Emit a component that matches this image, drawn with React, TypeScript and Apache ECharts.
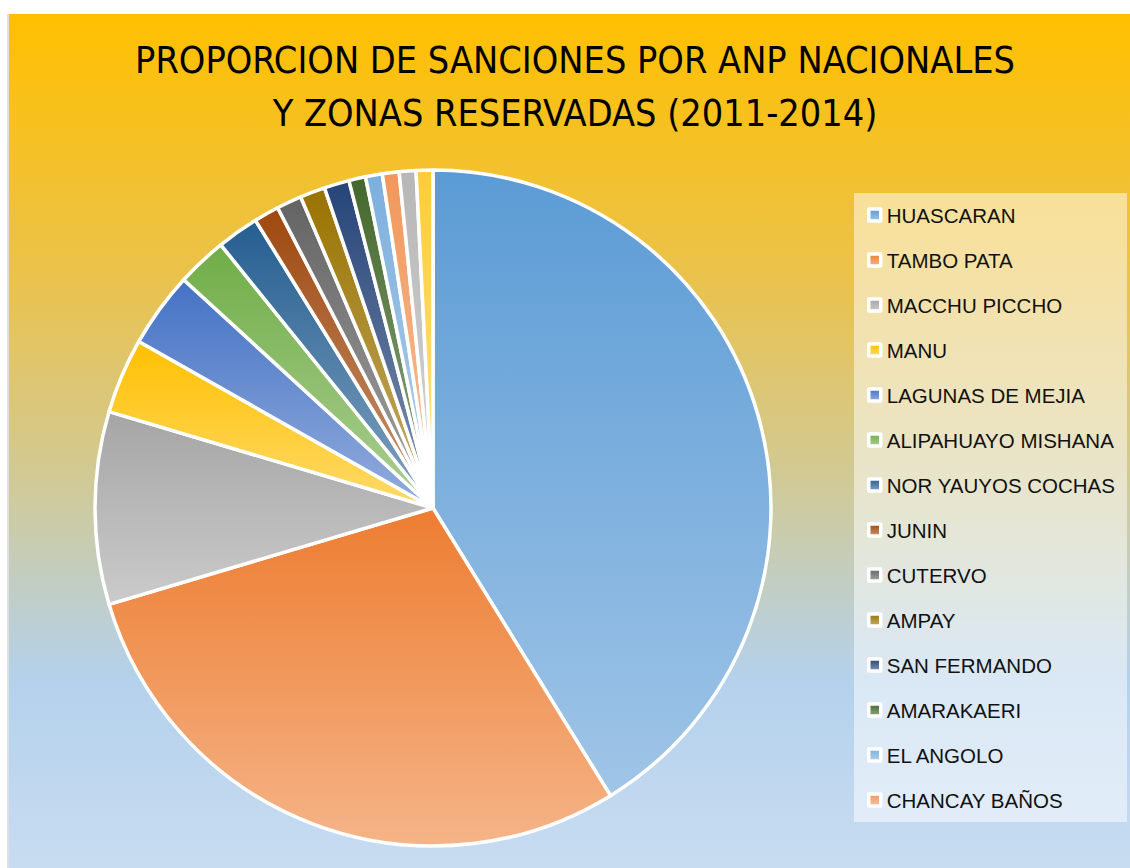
import React, { useEffect, useRef } from "react";
import * as echarts from "echarts";

const titleLines = [
  "PROPORCION DE SANCIONES POR ANP NACIONALES",
  "Y ZONAS RESERVADAS (2011-2014)",
];

const categories = [
  "HUASCARAN",
  "TAMBO PATA",
  "MACCHU PICCHO",
  "MANU",
  "LAGUNAS DE MEJIA",
  "ALIPAHUAYO MISHANA",
  "NOR YAUYOS COCHAS",
  "JUNIN",
  "CUTERVO",
  "AMPAY",
  "SAN FERMANDO",
  "AMARAKAERI",
  "EL ANGOLO",
  "CHANCAY BAÑOS",
  "OTRA ANP A",
  "OTRA ANP B",
];

const values = [103, 73, 23, 9, 9, 6, 5, 3, 3, 3, 3, 2, 2, 2, 2, 2];

const baseColors = [
  "#5B9BD5",
  "#ED7D31",
  "#A5A5A5",
  "#FFC000",
  "#4472C4",
  "#70AD47",
  "#255E91",
  "#9E480E",
  "#636363",
  "#997300",
  "#264478",
  "#43682B",
  "#7CAFDD",
  "#F1975A",
  "#B7B7B7",
  "#FFCD33",
];

const legendNames = categories.slice(0, 14);

function mix(hex: string, t: number): string {
  const n = parseInt(hex.slice(1), 16);
  const r = (n >> 16) & 255;
  const g = (n >> 8) & 255;
  const b = n & 255;
  const f = (c: number) => Math.round(c + (255 - c) * t);
  return `rgb(${f(r)},${f(g)},${f(b)})`;
}

function sliceGradient(hex: string) {
  return new echarts.graphic.LinearGradient(0, 0, 0, 1, [
    { offset: 0, color: hex },
    { offset: 1, color: mix(hex, 0.42) },
  ]);
}

export default function App() {
  const ref = useRef<HTMLDivElement>(null);

  useEffect(() => {
    if (!ref.current) return;
    const chart = echarts.init(ref.current, null, { renderer: "svg" });

    const data = categories.map((name, i) => ({
      name,
      value: values[i],
      itemStyle: { color: sliceGradient(baseColors[i]) },
    }));

    const titleFont = "'Liberation Sans Narrow', 'DejaVu Sans Condensed', 'Liberation Sans', sans-serif";

    chart.setOption({
      animation: false,
      graphic: [
        {
          type: "rect",
          z: -10,
          shape: { x: 9, y: 14, width: 1121, height: 854 },
          style: {
            fill: new echarts.graphic.LinearGradient(0, 0, 0, 1, [
              { offset: 0, color: "#FFC000" },
              { offset: 0.3, color: "#EBC24A" },
              { offset: 0.55, color: "#D0CA98" },
              { offset: 0.78, color: "#B4D1EC" },
              { offset: 1, color: "#C8DCF1" },
            ]),
          },
        },
        {
          type: "line",
          z: -9,
          shape: { x1: 8, y1: 14, x2: 8, y2: 868 },
          style: { stroke: "#D4D4D4", lineWidth: 1.5 },
        },
        {
          type: "rect",
          z: -8,
          shape: { x: 854, y: 193, width: 273, height: 629 },
          style: { fill: "rgba(255,255,255,0.5)" },
        },
        {
          type: "text",
          z: -7,
          x: 575,
          y: 60,
          style: {
            text: titleLines[0],
            font: `37.5px ${titleFont}`,
            fill: "#000000",
            align: "center",
            verticalAlign: "middle",
          },
        },
        {
          type: "text",
          z: -7,
          x: 575,
          y: 113,
          style: {
            text: titleLines[1],
            font: `37.5px ${titleFont}`,
            fill: "#000000",
            align: "center",
            verticalAlign: "middle",
          },
        },
      ],
      legend: {
        orient: "vertical",
        left: 862,
        top: 198,
        data: legendNames,
        icon: "rect",
        itemWidth: 12,
        itemHeight: 12,
        itemGap: 21,
        selectedMode: false,
        itemStyle: { borderColor: "#FFFFFF", borderWidth: 3.5 },
        textStyle: {
          fontFamily: "'Liberation Sans', Arial, sans-serif",
          fontSize: 20.5,
          lineHeight: 24,
          color: "#111111",
          padding: [0, 0, 0, 1],
        },
      },
      series: [
        {
          type: "pie",
          center: [433, 508],
          radius: 338,
          startAngle: 90,
          clockwise: true,
          label: { show: false },
          labelLine: { show: false },
          emphasis: { disabled: true },
          itemStyle: { borderColor: "#FFFFFF", borderWidth: 3.5 },
          data,
        },
      ],
    });

    return () => chart.dispose();
  }, []);

  return (
    <div
      ref={ref}
      style={{ position: "absolute", left: 0, top: 0, width: 1130, height: 868 }}
    />
  );
}
